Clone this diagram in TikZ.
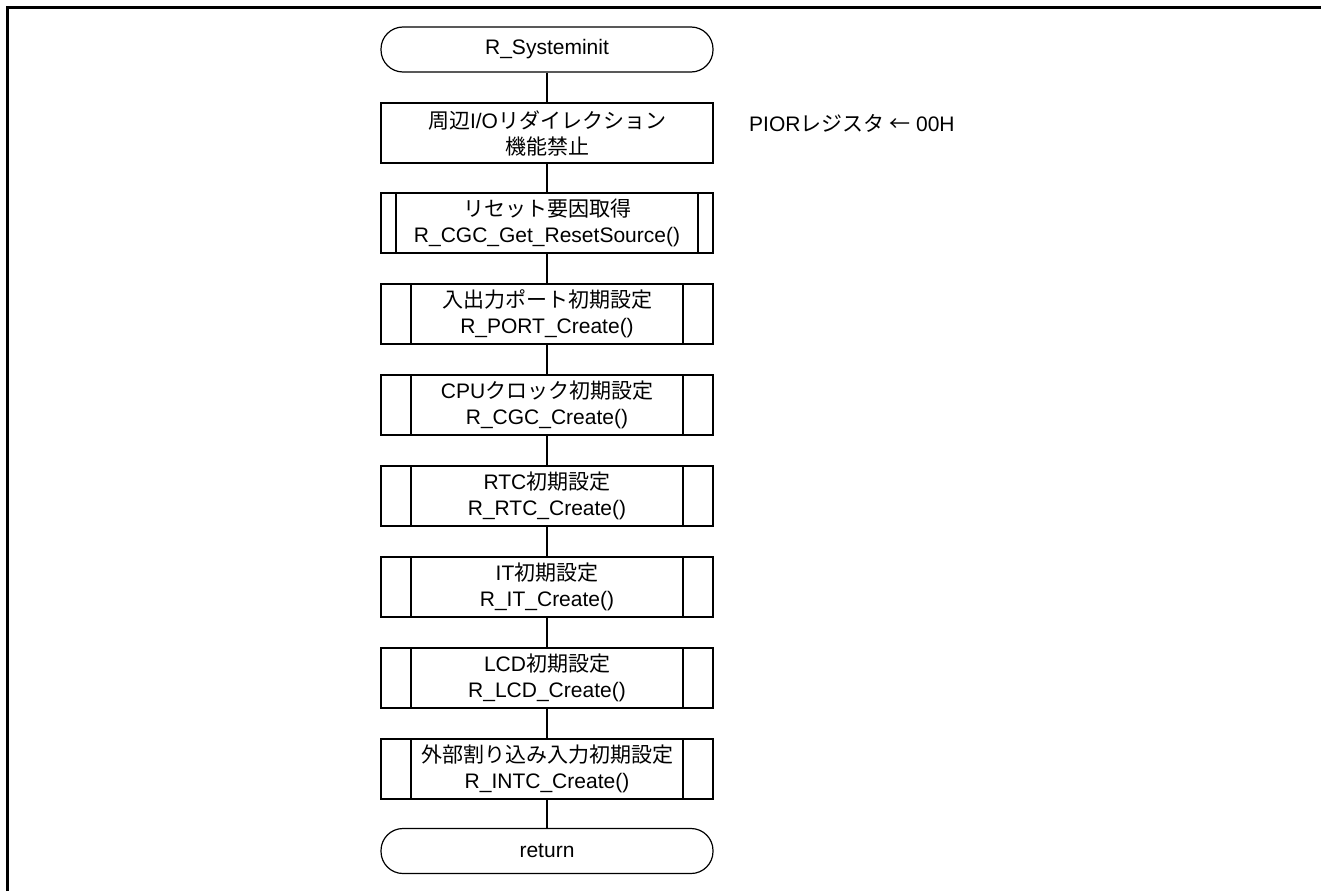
\documentclass[tikz,border=0pt]{standalone}
\usepackage{fontspec}
\setmainfont{Liberation Sans}
\newfontfamily\jpfont{Noto Sans CJK JP}
\newcommand\jt[1]{{\jpfont #1}}
\begin{document}
\begin{tikzpicture}[x=1pt,y=1pt,
  every node/.style={font=\fontsize{21}{26}\selectfont},
  term/.style={draw, line width=1.2pt, rounded corners=22pt, minimum width=332pt, minimum height=45pt, inner sep=0pt},
  proc/.style={draw, line width=1.2pt, minimum width=332pt, minimum height=60pt, align=center, inner sep=0pt},
  sub/.style={proc, path picture={
      \draw[line width=1.2pt] ([xshift=#1]path picture bounding box.north west) -- ([xshift=#1]path picture bounding box.south west);
      \draw[line width=1.2pt] ([xshift=-#1]path picture bounding box.north east) -- ([xshift=-#1]path picture bounding box.south east);}},
  conn/.style={line width=1.2pt},
  frame/.style={line width=3pt}]
\useasboundingbox (0,0) rectangle (1321,-891);
\draw[frame] (7.5,-891) -- (7.5,-7.5) -- (1321,-7.5);

\node[term] (start) at (547,-49.5) {R\_Systeminit};
\node[proc] (p1) at (547,-133) {\jt{周辺}I/O\jt{リダイレクション}\\\jt{機能禁止}};
\node[sub=15pt] (s1) at (547,-223) {\jt{リセット要因取得}\\R\_CGC\_Get\_ResetSource()};
\node[sub=30pt] (s2) at (547,-314) {\jt{入出力ポート初期設定}\\R\_PORT\_Create()};
\node[sub=30pt] (s3) at (547,-405) {CPU\jt{クロック初期設定}\\R\_CGC\_Create()};
\node[sub=30pt] (s4) at (547,-496) {RTC\jt{初期設定}\\R\_RTC\_Create()};
\node[sub=30pt] (s5) at (547,-587) {IT\jt{初期設定}\\R\_IT\_Create()};
\node[sub=30pt] (s6) at (547,-678) {LCD\jt{初期設定}\\R\_LCD\_Create()};
\node[sub=30pt] (s7) at (547,-769) {\jt{外部割り込み入力初期設定}\\R\_INTC\_Create()};
\node[term] (end) at (547,-851) {return};

\node[anchor=west, inner sep=0pt] (note) at (749,-123) {PIOR\jt{レジスタ ←} 00H};

\foreach \a/\b in {start/p1, p1/s1, s1/s2, s2/s3, s3/s4, s4/s5, s5/s6, s6/s7, s7/end}
  \draw[conn] (\a) -- (\b);
\end{tikzpicture}
\end{document}
